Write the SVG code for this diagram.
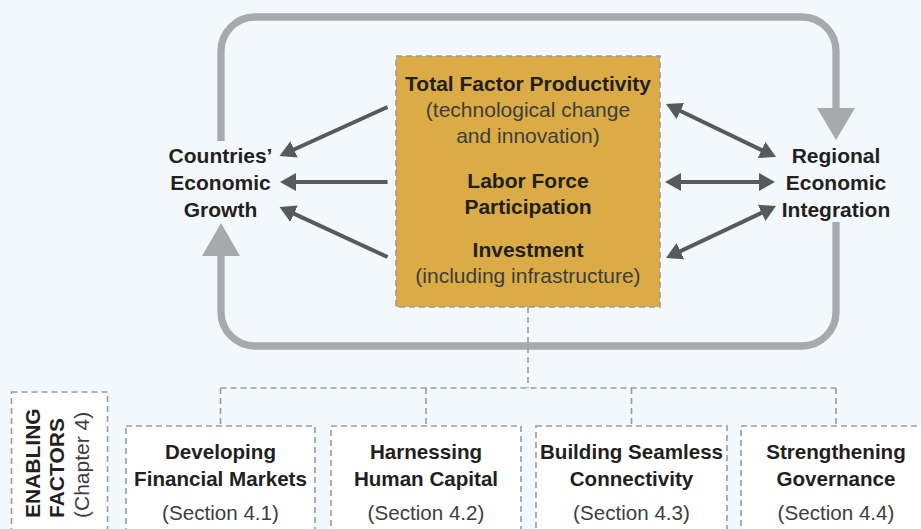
<svg xmlns="http://www.w3.org/2000/svg" width="921" height="529" viewBox="0 0 921 529">
  <defs>
    <style>
      .bg { fill: #f3f8fd; }
      .loop { fill: none; stroke: #a7a9ac; stroke-width: 7.3; }
      .loophead { fill: #a7a9ac; }
      .arr { fill: none; stroke: #58595b; stroke-width: 4; }
      .dash { fill: none; stroke: #9a9a9a; stroke-width: 1.6; stroke-dasharray: 6 4; }
      .box { fill: #ffffff; stroke: #9a9a9a; stroke-width: 1.6; stroke-dasharray: 6 4; }
      .core { fill: #dbac45; stroke: #9a9a9a; stroke-width: 1.6; stroke-dasharray: 6 4; }
      .b { font-family: "Liberation Sans", Arial, sans-serif; font-weight: bold; fill: #231f20; text-anchor: middle; }
      .r { font-family: "Liberation Sans", Arial, sans-serif; font-weight: normal; fill: #3d3d3d; text-anchor: middle; }
      .top { font-size: 21px; }
      .bot { font-size: 20.6px; }
      .side { font-size: 21px; text-anchor: start; }
    </style>
    <marker id="ah" viewBox="0 0 16 18" refX="8" refY="9" markerWidth="16" markerHeight="18" markerUnits="userSpaceOnUse" orient="auto-start-reverse">
      <path d="M0,0 L16,9 L0,18 z" fill="#58595b"/>
    </marker>
  </defs>

  <rect class="bg" x="0" y="0" width="921" height="529"/>

  <g id="connectors">
    <!-- feedback loop -->
    <path class="loop" d="M221,141 V51 A34,34 0 0 1 255,17 H802 A34,34 0 0 1 836,51 V109"/>
    <polygon class="loophead" points="817,108 855,108 836,140"/>
    <path class="loop" d="M836,222 V312 A34,34 0 0 1 802,346 H255 A34,34 0 0 1 221,312 V255"/>
    <polygon class="loophead" points="202,256 240,256 221,223"/>

    <!-- to Countries' Economic Growth -->
    <line class="arr" x1="387.5" y1="107" x2="286.8" y2="152.7" marker-end="url(#ah)"/>
    <line class="arr" x1="387.5" y1="182" x2="288" y2="182" marker-end="url(#ah)"/>
    <line class="arr" x1="387.5" y1="257" x2="286.8" y2="210.4" marker-end="url(#ah)"/>

    <!-- to/from Regional Economic Integration -->
    <line class="arr" x1="673.2" y1="107.5" x2="768.8" y2="153.5" marker-start="url(#ah)" marker-end="url(#ah)"/>
    <line class="arr" x1="673" y1="182" x2="767" y2="182" marker-start="url(#ah)" marker-end="url(#ah)"/>
    <line class="arr" x1="673.2" y1="254.6" x2="768.8" y2="209.4" marker-start="url(#ah)" marker-end="url(#ah)"/>

    <!-- enabling factors tree -->
    <path class="dash" d="M528,307 V388"/>
    <path class="dash" d="M220.5,388 H836"/>
    <path class="dash" d="M220.5,388 V427"/>
    <path class="dash" d="M426,388 V427"/>
    <path class="dash" d="M631.5,388 V427"/>
    <path class="dash" d="M836,388 V427"/>
  </g>

  <g id="growth">
    <text class="b top" x="220.5" y="163">Countries’</text>
    <text class="b top" x="220.5" y="190">Economic</text>
    <text class="b top" x="220.5" y="217">Growth</text>
  </g>

  <g id="integration">
    <text class="b top" x="836" y="163">Regional</text>
    <text class="b top" x="836" y="190">Economic</text>
    <text class="b top" x="836" y="217">Integration</text>
  </g>

  <g id="drivers">
    <rect class="core" x="396" y="56" width="264" height="251"/>
    <text class="b top" x="528" y="91">Total Factor Productivity</text>
    <text class="r top" x="528" y="117">(technological change</text>
    <text class="r top" x="528" y="143">and innovation)</text>
    <text class="b top" x="528" y="188">Labor Force</text>
    <text class="b top" x="528" y="214">Participation</text>
    <text class="b top" x="528" y="257">Investment</text>
    <text class="r top" x="528" y="283">(including infrastructure)</text>
  </g>

  <g id="enabling-factors">
    <rect class="box" x="11.5" y="392" width="96" height="160"/>
    <text class="b side" transform="translate(39.5,518) rotate(-90)">ENABLING</text>
    <text class="b side" transform="translate(63.5,518) rotate(-90)">FACTORS</text>
    <text class="r side" transform="translate(89,518) rotate(-90)">(Chapter 4)</text>
  </g>

  <g id="financial-markets">
    <rect class="box" x="126" y="426" width="189" height="130"/>
    <text class="b bot" x="220.5" y="459">Developing</text>
    <text class="b bot" x="220.5" y="486">Financial Markets</text>
    <text class="r bot" x="220.5" y="520">(Section 4.1)</text>
  </g>

  <g id="human-capital">
    <rect class="box" x="331" y="426" width="190" height="130"/>
    <text class="b bot" x="426" y="459">Harnessing</text>
    <text class="b bot" x="426" y="486">Human Capital</text>
    <text class="r bot" x="426" y="520">(Section 4.2)</text>
  </g>

  <g id="connectivity">
    <rect class="box" x="536" y="426" width="191" height="130"/>
    <text class="b bot" x="631.5" y="459">Building Seamless</text>
    <text class="b bot" x="631.5" y="486">Connectivity</text>
    <text class="r bot" x="631.5" y="520">(Section 4.3)</text>
  </g>

  <g id="governance">
    <rect class="box" x="741" y="426" width="190" height="130"/>
    <text class="b bot" x="836" y="459">Strengthening</text>
    <text class="b bot" x="836" y="486">Governance</text>
    <text class="r bot" x="836" y="520">(Section 4.4)</text>
  </g>
</svg>
